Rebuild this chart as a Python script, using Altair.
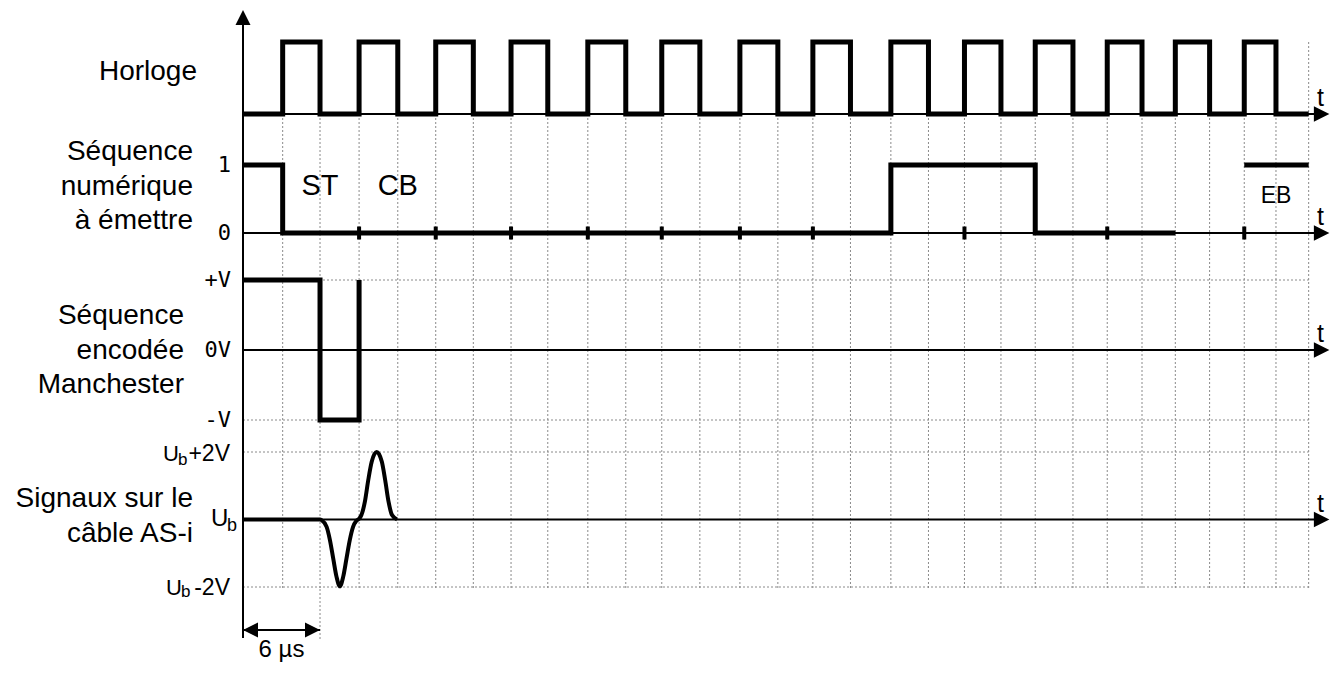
import altair as alt
import pandas as pd

# ---------------- values ----------------
# instants of the clock edges / vertical grid lines, in µs (half-bit = 3 µs), as drawn
edges = [0.00, 3.24, 6.29, 9.48, 12.64, 15.74, 18.81, 21.89, 24.89, 28.16,
         31.26, 34.20, 37.31, 40.58, 43.68, 46.54, 49.61, 52.91, 55.98, 58.92,
         61.90, 64.70, 67.78, 70.58, 73.42, 76.14, 78.94, 81.77, 84.36, 87.03]

# clock level in each interval between two successive edges
horloge = [0, 1, 0, 1, 0, 1, 0, 1, 0, 1, 0, 1, 0, 1, 0, 1, 0, 1, 0, 1,
           0, 1, 0, 1, 0, 1, 0, 1, 0]

# digital sequence to transmit, level per interval starting at edge 0
sequence = [1, 0, 0, 0, 0, 0, 0, 0, 0, 0, 0, 0, 0, 0, 0, 0, 0,
            1, 1, 1, 1, 0, 0, 0, 0]
eb_edges = [27, 29]          # end bit segment (no vertical edges)
eb_level = 1
bit_ticks = [3, 5, 7, 9, 11, 13, 15, 19, 23, 27]   # small marks on the 0 line
bit_names = ["ST", "CB", "EB"]
bit_name_edges = [2, 4, 28]

# Manchester encoded sequence, level per interval, then final rising edge
manchester = [1, 1, -1]
manchester_last = 1

# signal on the AS-i cable (in V relative to Ub)
asi_t = [0, 6.29, 6.42, 6.83, 7.10, 7.37, 7.64, 7.91, 8.18, 8.45, 8.72, 8.99,
         9.26, 9.48, 9.67, 9.95, 10.23, 10.51, 10.92, 11.34, 11.61, 11.89,
         12.17, 12.58]
asi_v = [0, 0, -0.02, -0.22, -0.61, -1.16, -1.70, -1.98, -1.70, -1.16, -0.61,
         -0.22, -0.04, 0.02, 0.13, 0.52, 1.17, 1.71, 2.0, 1.71, 1.17, 0.52,
         0.13, 0.0]

seq_levels = [1, 0]
seq_level_labels = ["1", "0"]
man_levels = [1, 0, -1]
man_level_labels = ["+V", "0V", "-V"]
asi_levels = [2, 0, -2]
asi_level_suffix = ["+2V", "", "-2V"]

track_titles = ["Horloge",
                ["Séquence", "numérique", "à émettre"],
                ["Séquence", "encodée", "Manchester"],
                ["Signaux sur le", "câble AS-i"]]
period_label = "6 µs"
axis_label = "t"

# ---------------- layout / style ----------------
W, H = 1322, 657
OX, OY = 8, 8
SANS = "Liberation Sans"
MONO = "DejaVu Sans Mono"


def px(x):
    return x - OX


def py(y):
    return y - OY


XS = alt.Scale(domain=[0, 87], range=[px(243), px(1308.3)], nice=False, zero=False)
TRACK = {
    "clk": ([0, 1], [py(114), py(42)]),
    "seq": ([0, 1], [py(233), py(165)]),
    "man": ([-1, 1], [py(420), py(280)]),
    "asi": ([-2, 2], [py(587), py(452)]),
}
ARROW_T = 88.72
RIGHT = "M0,0L-2,-1L-2,1Z"
LEFT = "M0,0L2,-1L2,1Z"
UP = "M0,0L-1,2L1,2Z"
GRID = dict(color="#8a8a8a", strokeWidth=1, strokeDash=[2, 2])
SIG = dict(color="black", strokeWidth=5, strokeJoin="miter", strokeCap="butt")
ONE = pd.DataFrame({"k": [0]})


def X(field="t"):
    return alt.X(f"{field}:Q", scale=XS, axis=None)


def Y(track, field="v"):
    d, r = TRACK[track]
    return alt.Y(f"{field}:Q", scale=alt.Scale(domain=d, range=r, nice=False, zero=False), axis=None)


def steps(levels, first=0, last=None):
    rows = []
    for i, lv in enumerate(levels):
        rows += [(edges[first + i], lv), (edges[first + i + 1], lv)]
    if last is not None:
        rows.append((edges[first + len(levels)], last))
    df = pd.DataFrame(rows, columns=["t", "v"])
    df["o"] = range(len(df))
    return df


layers = []

# vertical dotted grid
layers.append(alt.Chart(pd.DataFrame({"t": edges[1:]})).mark_rule(**GRID).encode(
    x=X(), y=alt.value(py(42)), y2=alt.value(py(589))))
layers.append(alt.Chart(pd.DataFrame({"t": [edges[2]]})).mark_rule(**GRID).encode(
    x=X(), y=alt.value(py(589)), y2=alt.value(py(641))))
# horizontal dotted grid
for trk, lv in [("man", [1, -1]), ("asi", [2, -2])]:
    df = pd.DataFrame({"t0": 0.0, "t1": edges[-1], "v": lv})
    layers.append(alt.Chart(df).mark_rule(**GRID).encode(x=X("t0"), x2="t1", y=Y(trk)))

# time axes with arrows and "t"
for trk in TRACK:
    df = pd.DataFrame({"t0": [0.0], "t1": [ARROW_T - 0.6], "v": [0]})
    layers.append(alt.Chart(df).mark_rule(color="black", strokeWidth=2).encode(
        x=X("t0"), x2="t1", y=Y(trk)))
    dfa = pd.DataFrame({"t": [ARROW_T], "v": [0]})
    layers.append(alt.Chart(dfa).mark_point(shape=RIGHT, filled=True, size=240, color="black",
                                            opacity=1, strokeWidth=0).encode(x=X(), y=Y(trk)))
    layers.append(alt.Chart(dfa).mark_text(text=axis_label, font=SANS, fontSize=25, align="center",
                                           baseline="alphabetic", dx=-9, dy=-8, color="black").encode(
        x=X(), y=Y(trk)))

# main vertical axis
layers.append(alt.Chart(pd.DataFrame({"t": [0.0]})).mark_rule(color="black", strokeWidth=2).encode(
    x=X(), y=alt.value(py(24)), y2=alt.value(py(638))))
layers.append(alt.Chart(pd.DataFrame({"t": [0.0]})).mark_point(
    shape=UP, filled=True, size=225, color="black", opacity=1, strokeWidth=0).encode(
    x=X(), y=alt.value(py(10))))

# signals
layers.append(alt.Chart(steps(horloge)).mark_line(**SIG).encode(x=X(), y=Y("clk"), order="o:Q"))
layers.append(alt.Chart(steps(sequence)).mark_line(**SIG).encode(x=X(), y=Y("seq"), order="o:Q"))
eb = pd.DataFrame({"t0": [edges[eb_edges[0]]], "t1": [edges[eb_edges[1]]], "v": [eb_level]})
layers.append(alt.Chart(eb).mark_rule(color="black", strokeWidth=5).encode(
    x=X("t0"), x2="t1", y=Y("seq")))
layers.append(alt.Chart(steps(manchester, last=manchester_last)).mark_line(**SIG).encode(
    x=X(), y=Y("man"), order="o:Q"))
asi = pd.DataFrame({"t": asi_t, "v": asi_v, "o": range(len(asi_t))})
layers.append(alt.Chart(asi).mark_line(color="black", strokeWidth=4, interpolate="monotone").encode(
    x=X(), y=Y("asi"), order="o:Q"))

# bit marks on the 0 line
layers.append(alt.Chart(pd.DataFrame({"t": [edges[i] for i in bit_ticks], "v": 0})).mark_tick(
    orient="vertical", size=13, thickness=4, color="black", opacity=1).encode(x=X(), y=Y("seq")))

# bit names
dfn = pd.DataFrame({"t": [edges[i] for i in bit_name_edges], "v": 0, "lab": bit_names})
layers.append(alt.Chart(dfn.iloc[:2]).mark_text(font=SANS, fontSize=29, align="center",
                                                baseline="alphabetic", dy=-38, color="black").encode(
    x=X(), y=Y("seq"), text="lab:N"))
layers.append(alt.Chart(dfn.iloc[2:]).mark_text(font=SANS, fontSize=23, align="center",
                                                baseline="alphabetic", dy=-30, color="black").encode(
    x=X(), y=Y("seq"), text="lab:N"))

# level labels
for trk, lv, lab in [("seq", seq_levels, seq_level_labels), ("man", man_levels, man_level_labels)]:
    df = pd.DataFrame({"t": 0.0, "v": lv, "lab": lab})
    layers.append(alt.Chart(df).mark_text(font=MONO, fontSize=22, align="right", baseline="middle",
                                          dx=-12, color="black").encode(x=X(), y=Y(trk), text="lab:N"))

# Ub labels (U + subscript b + suffix)
U_x = {2: 163, 0: 211, -2: 166}
U_dy = {2: 9, 0: 6, -2: 7.5}
U_size = {2: 22, 0: 24, -2: 22}
b_x = {2: 178, 0: 227, -2: 181}
b_dy = {2: 12.5, 0: 11, -2: 10}
b_size = {2: 17, 0: 18, -2: 17}
for lv, suf in zip(asi_levels, asi_level_suffix):
    df = pd.DataFrame({"v": [lv]})
    layers.append(alt.Chart(df).mark_text(text="U", font=SANS, fontSize=U_size[lv], align="left",
                                          baseline="alphabetic", dy=U_dy[lv], color="black").encode(
        x=alt.value(px(U_x[lv])), y=Y("asi")))
    layers.append(alt.Chart(df).mark_text(text="b", font=SANS, fontSize=b_size[lv], align="left",
                                          baseline="alphabetic", dy=b_dy[lv], color="black").encode(
        x=alt.value(px(b_x[lv])), y=Y("asi")))
    if suf:
        layers.append(alt.Chart(df).mark_text(text=suf, font=SANS, fontSize=23, align="right",
                                              baseline="alphabetic", dy=U_dy[lv], color="black").encode(
            x=alt.value(px(230)), y=Y("asi")))

# track titles
title_pos = [(197, 80, 34.5), (193, 160, 34.5), (184, 324, 34.5), (193, 507, 35)]
for txt, (xr, yb, lh) in zip(track_titles, title_pos):
    layers.append(alt.Chart(ONE).mark_text(text=txt, font=SANS, fontSize=28, align="right",
                                           baseline="alphabetic", lineHeight=lh, color="black").encode(
        x=alt.value(px(xr)), y=alt.value(py(yb))))

# 6 µs period marker
dfp = pd.DataFrame({"t0": [edges[0]], "t1": [edges[2]]})
layers.append(alt.Chart(dfp).mark_rule(color="black", strokeWidth=2).encode(
    x=X("t0"), x2="t1", y=alt.value(py(630))))
layers.append(alt.Chart(pd.DataFrame({"t": [edges[0]]})).mark_point(
    shape=LEFT, filled=True, size=225, color="black", opacity=1, strokeWidth=0).encode(
    x=X(), y=alt.value(py(630))))
layers.append(alt.Chart(pd.DataFrame({"t": [edges[2]]})).mark_point(
    shape=RIGHT, filled=True, size=225, color="black", opacity=1, strokeWidth=0).encode(
    x=X(), y=alt.value(py(630))))
layers.append(alt.Chart(pd.DataFrame({"t": [(edges[0] + edges[2]) / 2]})).mark_text(
    text=period_label, font=SANS, fontSize=24, align="center", baseline="alphabetic",
    color="black").encode(x=X(), y=alt.value(py(657))))

chart = alt.layer(*layers).resolve_scale(y="independent").properties(
    width=W, height=H,
    autosize=alt.AutoSizeParams(type="none"),
    padding={"left": 0, "top": 0, "right": 0, "bottom": 0},
    background="white",
).configure_view(stroke=None)

chart.save("out.html", embed_options={"renderer": "svg", "actions": False})
